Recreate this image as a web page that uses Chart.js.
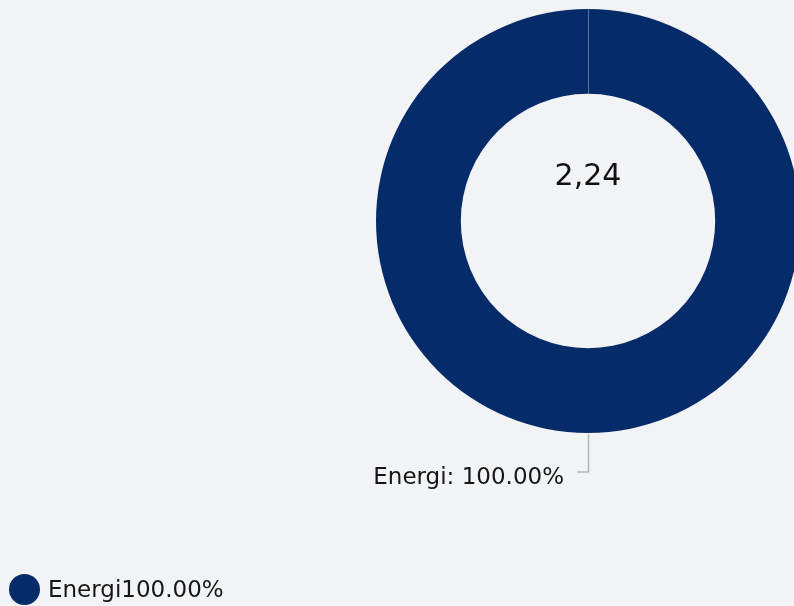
<!DOCTYPE html>
<html>
<head>
<meta charset="utf-8">
<script src="https://cdn.jsdelivr.net/npm/chart.js@4/dist/chart.umd.min.js"></script>
<style>
  html, body { margin: 0; padding: 0; background: #f1f3f5; overflow: hidden; }
  #wrap { position: relative; width: 830px; height: 606px; }
</style>
</head>
<body>
<div id="wrap"><canvas id="chart" width="830" height="606"></canvas></div>
<script>
const categories = ['Energi']
const values = [2.24]
const colors = ['#062b69']
const centerLabel = '2,24'

const FONT = '"DejaVu Sans", Verdana, sans-serif'
const total = values.reduce((a, b) => a + b, 0)
const pct = (v) => ((v / total) * 100).toFixed(2) + '%'

// centre text, callout label and legend drawn from the arc geometry
const overlay = {
  id: 'overlay',
  afterDatasetsDraw(chart) {
    const ctx = chart.ctx
    const meta = chart.getDatasetMeta(0)
    const arc = meta.data[0]
    const { x, y, outerRadius } = arc

    ctx.save()
    // faint seam where the ring starts
    ctx.strokeStyle = 'rgba(255,255,255,0.35)'
    ctx.lineWidth = 1
    ctx.beginPath()
    ctx.moveTo(x + 0.5, y - outerRadius)
    ctx.lineTo(x + 0.5, y - arc.innerRadius)
    ctx.stroke()

    ctx.fillStyle = '#111'
    ctx.font = `30px ${FONT}`
    ctx.textAlign = 'center'
    ctx.textBaseline = 'alphabetic'
    ctx.fillText(centerLabel, x, y - 36)

    // callout under the ring
    const by = y + outerRadius + 1
    ctx.strokeStyle = '#b5b8bc'
    ctx.lineWidth = 1.5
    ctx.beginPath()
    ctx.moveTo(x + 0.5, by)
    ctx.lineTo(x + 0.5, by + 38)
    ctx.lineTo(x - 11, by + 38)
    ctx.stroke()

    ctx.fillStyle = '#161616'
    ctx.font = `23px ${FONT}`
    ctx.textAlign = 'right'
    ctx.fillText(`${categories[0]}: ${pct(values[0])}`, x - 24, by + 50)

    // legend bottom-left
    categories.forEach((name, i) => {
      ctx.fillStyle = colors[i]
      ctx.beginPath()
      ctx.arc(24.5, 589.5, 15.5, 0, Math.PI * 2)
      ctx.fill()
      ctx.fillStyle = '#161616'
      ctx.textAlign = 'left'
      ctx.fillText(name + pct(values[i]), 48, 597)
    })
    ctx.restore()
  },
}

new Chart(document.getElementById('chart'), {
  type: 'doughnut',
  data: {
    labels: categories,
    datasets: [{
      data: values,
      backgroundColor: colors,
      borderWidth: 0,
      hoverOffset: 0,
    }],
  },
  options: {
    responsive: false,
    animation: false,
    cutout: '60%',
    layout: { padding: { left: 376, top: 9, right: 30, bottom: 173 } },
    plugins: {
      legend: { display: false },
      tooltip: { enabled: false },
    },
  },
  plugins: [overlay],
})
</script>
</body>
</html>
